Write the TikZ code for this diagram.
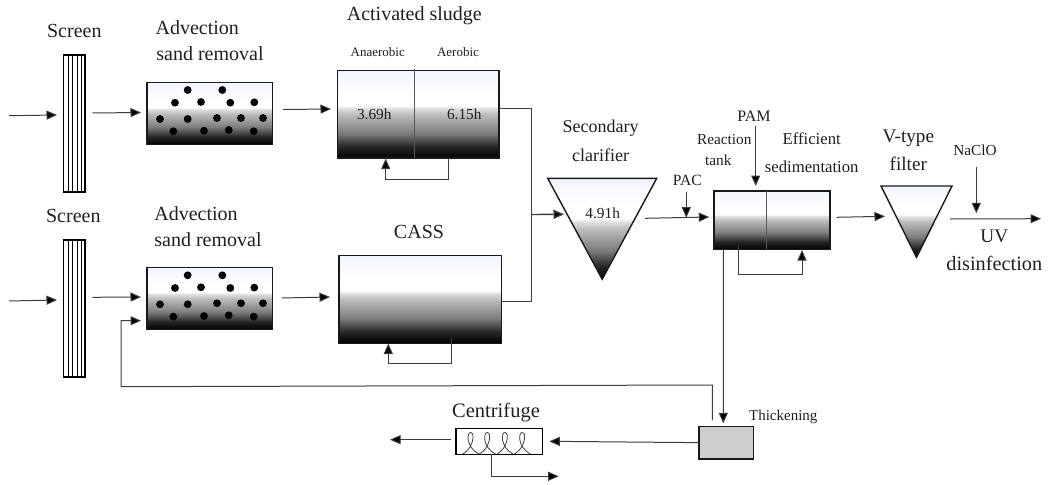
\documentclass[tikz,border=0pt]{standalone}
\usepackage{fontspec}
\setmainfont{Liberation Serif}
\usetikzlibrary{arrows.meta}
\newcommand\fsz[1]{\fontsize{#1}{#1}\selectfont}
\definecolor{topblue}{HTML}{F2F5FF}
\definecolor{linegray}{HTML}{3C3C3C}
\definecolor{thickfill}{HTML}{CFCDCE}
\pgfdeclareverticalshading{tankshade}{100bp}{color(0bp)=(black); color(25bp)=(black); color(31.5bp)=(black!85); color(39bp)=(black!52); color(50bp)=(black!26); color(53.5bp)=(black!12); color(55bp)=(white); color(60bp)=(white); color(75bp)=(topblue); color(100bp)=(topblue)}
\tikzset{
  lbl/.style={inner sep=0pt,outer sep=0pt,text=black!88},
  tankbox/.style={draw=black!90,line width=1.4pt,inner sep=0pt,outer sep=0pt,shade,shading=tankshade,rectangle},
  ghost/.style={inner sep=0pt,outer sep=0pt,rectangle},
  screenbox/.style={draw=black,line width=1.5pt,inner sep=0pt,outer sep=0pt,fill=white,rectangle},
  flow/.style={draw=linegray,line width=1pt,-{Triangle[length=10.5pt,width=9pt,fill=black]}},
  plain/.style={draw=linegray,line width=1pt},
  divider/.style={draw=black!65,line width=1pt},
}
\newcommand\sanddots[1]{%
  \foreach \dx/\dy in {187.7/90,222.3/90,175/102.7,201/102,230.3/102.7,254.3/102.3,160/119,187.7/119,217/118,241/118,263/118,173.3/131.3,204/130.7,228.7/130,253.7/131.3}{
    \fill[black] (\dx,\dy+#1) circle (3.9);
  }}
\newcommand\screenlines[2]{%
  \foreach \sx in {68.3,72.7,77.3,81.7}{
    \draw[black,line width=1.1pt] (\sx,#1) -- (\sx,#2);
  }}
\newcommand\coil[1]{%
  \draw[black!75,line width=0.8pt] (#1-8,454) .. controls (#1+2,449) and (#1+5,433) .. (#1,432.5) .. controls (#1-4,432) and (#1-5,447) .. (#1+8,454);
}
\begin{document}
\begin{tikzpicture}[x=1pt,y=-1pt]
\useasboundingbox (0,0) rectangle (1048,484);
% screens
\node[screenbox,minimum width=21.3pt,minimum height=137pt] (screenA) at (74.35,123.5) {};
\node[screenbox,minimum width=21.3pt,minimum height=137pt] (screenB) at (74.35,308.5) {};
\screenlines{55}{192}
\screenlines{240}{377}
% grit tanks
\node[tankbox,minimum width=125.5pt,minimum height=62pt] (gritA) at (209.75,113.7) {};
\node[tankbox,minimum width=125.5pt,minimum height=62.4pt] (gritB) at (209.75,298.5) {};
\sanddots{0}
\sanddots{185.3}
% biological tanks
\node[tankbox,minimum width=161.7pt,minimum height=87.3pt] (sludge) at (418.15,114.35) {};
\draw[divider] (414,69) -- (414,158);
\node[tankbox,minimum width=162.7pt,minimum height=87.6pt] (cass) at (420.35,299.5) {};
% clarifier
\node[ghost,minimum width=109pt,minimum height=101pt] (clar) at (602.2,228.8) {};
\shade[shading=tankshade] (clar.north west) -- (clar.north east) -- (clar.south) -- cycle;
\draw[black!90,line width=1.4pt,line join=miter] (clar.north west) -- (clar.north east) -- (clar.south) -- cycle;
% reaction tank
\node[tankbox,minimum width=116pt,minimum height=58.3pt] (react) at (772,220.15) {};
\draw[divider] (766,191) -- (766,249);
% V filter
\node[ghost,minimum width=71pt,minimum height=71.3pt] (vfilter) at (916.5,221.65) {};
\shade[shading=tankshade] (vfilter.north west) -- (vfilter.north east) -- (vfilter.south) -- cycle;
\draw[black!90,line width=1.4pt] (vfilter.north west) -- (vfilter.north east) -- (vfilter.south) -- cycle;
% thickening and centrifuge
\node[draw=black!90,line width=1.4pt,fill=thickfill,inner sep=0pt,outer sep=0pt,minimum width=54.3pt,minimum height=32.7pt] (thick) at (726.15,442.65) {};
\node[draw=black,line width=1.3pt,fill=white,inner sep=0pt,outer sep=0pt,minimum width=86.3pt,minimum height=25.6pt] (centri) at (499.15,441.5) {};
\coil{470.7}\coil{487.3}\coil{505}\coil{522.3}
% free ends and bends
\coordinate (inA) at (9,115.7);
\coordinate (inB) at (9,301);
\coordinate (uvIn) at (950,219);
\coordinate (uvOut) at (1041,218.7);
\coordinate (cakeOut) at (390,439.7);
\coordinate (filtrate) at (558.7,476.3);
\coordinate (pacTop) at (686.3,191.7);
\coordinate (pacTip) at (686.3,217.7);
\coordinate (pamTop) at (755.7,126);
\coordinate (naTop) at (976.3,166.7);
\coordinate (naTip) at (976.3,213.3);
\coordinate (merge) at (531.3,214.5);
\coordinate (clarOut) at (645,218.3);
\coordinate (retA) at (712.3,385);
\coordinate (retB) at (121,386.7);
\coordinate (retC) at (121,320.7);
% labels
\node[lbl,font=\fsz{20}] (tScrA) at (74.3,30.5) {Screen};
\node[lbl,font=\fsz{20}] (tScrB) at (73.3,215.7) {Screen};
\node[lbl,font=\fsz{20}] (tAdvA) at (197.3,27.7) {Advection};
\node[lbl,font=\fsz{20}] (tSandA) at (210,54) {sand removal};
\node[lbl,font=\fsz{20}] (tAdvB) at (196,213.3) {Advection};
\node[lbl,font=\fsz{20}] (tSandB) at (208,239.3) {sand removal};
\node[lbl,font=\fsz{20}] (tAct) at (414.3,16) {Activated sludge};
\node[lbl,font=\fsz{13}] (tAna) at (377.7,52.3) {Anaerobic};
\node[lbl,font=\fsz{13}] (tAer) at (458,52.3) {Aerobic};
\node[lbl,font=\fsz{15.3}] (tHa) at (374.3,114) {3.69h};
\node[lbl,font=\fsz{15.3}] (tHb) at (464.3,114) {6.15h};
\node[lbl,font=\fsz{20}] (tCass) at (419,232.3) {CASS};
\node[lbl,font=\fsz{18}] (tSec) at (600.7,128.3) {Secondary};
\node[lbl,font=\fsz{18}] (tCla) at (600.7,155) {clarifier};
\node[lbl,font=\fsz{15.3}] (tHc) at (602.7,213.7) {4.91h};
\node[lbl,font=\fsz{15.6}] (tPac) at (687.3,180.7) {PAC};
\node[lbl,font=\fsz{16}] (tPam) at (754,116.7) {PAM};
\node[lbl,font=\fsz{15.3}] (tRea) at (724.3,139.3) {Reaction};
\node[lbl,font=\fsz{15.3}] (tTank) at (718.3,160) {tank};
\node[lbl,font=\fsz{16.7}] (tEff) at (811.7,139) {Efficient};
\node[lbl,font=\fsz{16.7}] (tSed) at (811.7,166.7) {sedimentation};
\node[lbl,font=\fsz{19.2}] (tV) at (908.3,138.3) {V-type};
\node[lbl,font=\fsz{19.2}] (tFil) at (908.3,164) {filter};
\node[lbl,font=\fsz{15.3}] (tNa) at (975,150.7) {NaClO};
\node[lbl,font=\fsz{19.2}] (tUv) at (994.3,236.7) {UV};
\node[lbl,font=\fsz{20.3}] (tDis) at (994.3,263.3) {disinfection};
\node[lbl,font=\fsz{15}] (tThi) at (783.3,416.7) {Thickening};
\node[lbl,font=\fsz{20.5}] (tCen) at (496,412.7) {Centrifuge};
% connectors
\draw[flow] (inA) -- ([shift={(-6.7,-8.5)}]screenA.west);
\draw[flow] ([shift={(7.5,-10.5)}]screenA.east) -- ([shift={(-6,-1.2)}]gritA.west);
\draw[flow] ([shift={(10.5,-4.2)}]gritA.east) -- ([shift={(-6.3,-5.35)}]sludge.west);
\draw[flow] (inB) -- ([shift={(-6.7,-8.5)}]screenB.west);
\draw[flow] ([shift={(7.5,-11.2)}]screenB.east) -- ([shift={(-6,-1.5)}]gritB.west);
\draw[flow] ([shift={(9.5,-0.5)}]gritB.east) -- ([shift={(-9,-2.5)}]cass.west);
\draw[flow] ([shift={(30.55,0)}]sludge.south) -- ++(0,21.3) -| ([shift={(-32.45,0.6)}]sludge.south);
\draw[flow] ([shift={(31.35,-5.3)}]cass.south) -- ++(0,25.7) -| ([shift={(-32.05,0.2)}]cass.south);
\draw[plain] ([yshift=5.35pt]sludge.east) -- ++(32.3,0) |- ([yshift=-1.5pt]cass.east);
\draw[flow,line width=1.4pt] (merge) -- ([shift={(-38.2,-14.5)}]clar.center);
\draw[flow] (clarOut) -- ([shift={(-4.7,-3.15)}]react.west);
\draw[flow] (pacTop) -- (pacTip);
\draw[flow] (pamTop) -- ([shift={(-16.3,-5)}]react.north);
\draw[flow] ([shift={(-33.3,-4)}]react.south) -- ++(0,29) -| ([shift={(30,0.7)}]react.south);
\draw[flow] ([shift={(6.7,-2.85)}]react.east) -- ([shift={(-31.5,-5.35)}]vfilter.center);
\draw[flow] (naTop) -- (naTip);
\draw[flow] (uvIn) -- (uvOut);
\draw[flow] ([shift={(-48.7,0)}]react.south) -- ([shift={(-2.85,-3)}]thick.north);
\draw[flow] ([shift={(-13.85,-6.3)}]thick.north) -- (retA) -- (retB) -- (retC) -- ([shift={(-6,22.2)}]gritB.west);
\draw[flow] (thick.west) -- ([shift={(7,-0.2)}]centri.east);
\draw[flow] ([shift={(-5.3,-1.8)}]centri.west) -- (cakeOut);
\draw[flow] ([xshift=-7.45pt]centri.south) |- (filtrate);
\end{tikzpicture}
\end{document}
